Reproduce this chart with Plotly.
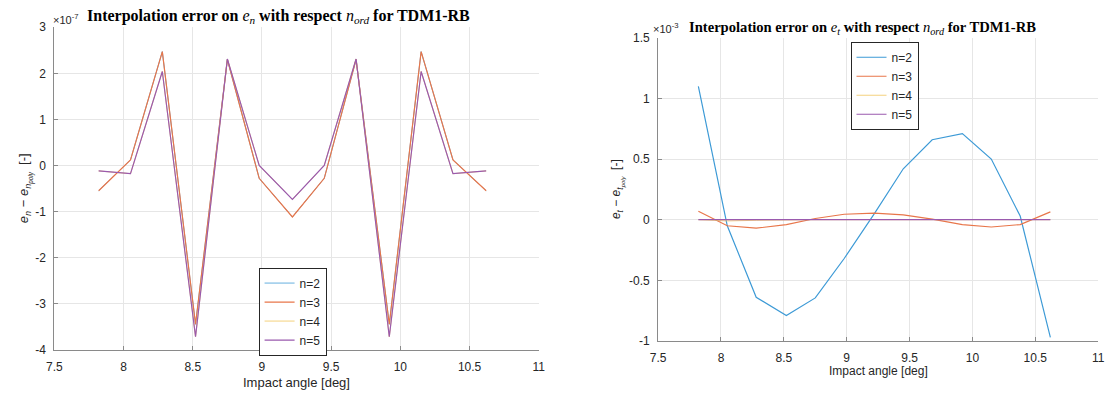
import plotly.graph_objects as go

W, H = 1115, 401

# Impact angle [deg]
angle = [7.82, 8.05, 8.28, 8.52, 8.75, 8.98, 9.22, 9.45, 9.68, 9.92, 10.15, 10.38, 10.62]

# Left panel: e_n error, in units of 1e-7
en_n2 = [-0.55, 0.12, 2.47, -3.45, 2.30, -0.28, -1.12, -0.28, 2.30, -3.45, 2.47, 0.12, -0.55]
en_n3 = [-0.55, 0.12, 2.47, -3.45, 2.30, -0.28, -1.12, -0.28, 2.30, -3.45, 2.47, 0.12, -0.55]
en_n4 = [-0.12, -0.18, 2.04, -3.72, 2.31, 0.00, -0.74, 0.00, 2.31, -3.72, 2.04, -0.18, -0.12]
en_n5 = [-0.12, -0.18, 2.04, -3.72, 2.31, 0.00, -0.74, 0.00, 2.31, -3.72, 2.04, -0.18, -0.12]

# Right panel: e_t error, in units of 1e-3
et_n2 = [1.10, -0.05, -0.64, -0.79, -0.645, -0.32, 0.05, 0.42, 0.66, 0.71, 0.50, 0.03, -0.97]
et_n3 = [0.07, -0.05, -0.07, -0.04, 0.01, 0.045, 0.055, 0.04, 0.005, -0.04, -0.06, -0.04, 0.065]
et_n4 = [0.0, -0.01, -0.005, 0.0, 0.0, 0.0, 0.0, 0.0, 0.0, 0.0, 0.0, 0.0, 0.0]
et_n5 = [0.0, 0.0, 0.0, 0.0, 0.0, 0.0, 0.0, 0.0, 0.0, 0.0, 0.0, 0.0, 0.0]

names = ["n=2", "n=3", "n=4", "n=5"]
colors = ["#3d9ad6", "#e8764a", "#f0c45a", "#9a5aae"]

x_ticks = [7.5, 8, 8.5, 9, 9.5, 10, 10.5, 11]
left_y_ticks = [-4, -3, -2, -1, 0, 1, 2, 3]
right_y_ticks = [-1, -0.5, 0, 0.5, 1, 1.5]


def px(x):
    return x / W


def py(y):
    return 1 - y / H


def fmt(v):
    return "%g" % v


fig = go.Figure()

# hidden-under traces (n=2 under n=3, n=4 under n=5) drawn thinner so the top colour stays clean
left_widths = [0.8, 1.2, 0.8, 1.2]
right_widths = [1.2, 1.2, 0.8, 1.2]

for nm, col, ys, w in zip(names, colors, [en_n2, en_n3, en_n4, en_n5], left_widths):
    fig.add_trace(go.Scatter(x=angle, y=ys, mode="lines", name=nm,
                             line=dict(color=col, width=w),
                             xaxis="x", yaxis="y", legend="legend"))
for nm, col, ys, w in zip(names, colors, [et_n2, et_n3, et_n4, et_n5], right_widths):
    fig.add_trace(go.Scatter(x=angle, y=ys, mode="lines", name=nm,
                             line=dict(color=col, width=w),
                             xaxis="x2", yaxis="y2", legend="legend2"))

tickfont = dict(family="Liberation Sans, Arial, sans-serif", size=12, color="#262626")
axcommon = dict(showgrid=True, gridcolor="#e6e6e6", gridwidth=1, zeroline=False,
                showline=True, linecolor="#8a8a8a", linewidth=1,
                ticks="inside", ticklen=4, tickcolor="#8a8a8a",
                tickfont=tickfont, mirror=False)

legfont = dict(family="Liberation Sans, Arial, sans-serif", size=12, color="#262626")

fig.update_layout(
    width=W, height=H,
    margin=dict(l=0, r=0, t=0, b=0),
    paper_bgcolor="white", plot_bgcolor="white",
    showlegend=True,
    xaxis=dict(domain=[px(47), px(538)], range=[7.5, 11], anchor="y",
               tickvals=x_ticks, ticktext=[fmt(v) for v in x_ticks],
               ticklabelstandoff=6, **axcommon),
    yaxis=dict(domain=[py(355), py(21)], range=[-4, 3], anchor="x",
               tickvals=left_y_ticks, ticktext=[fmt(v) for v in left_y_ticks],
               ticklabelstandoff=5, **axcommon),
    xaxis2=dict(domain=[px(659), px(1105)], range=[7.5, 11], anchor="y2",
                tickvals=x_ticks, ticktext=[fmt(v) for v in x_ticks],
                ticklabelstandoff=6, **axcommon),
    yaxis2=dict(domain=[py(346), py(32)], range=[-1, 1.5], anchor="x2",
                tickvals=right_y_ticks, ticktext=[fmt(v) for v in right_y_ticks],
                ticklabelstandoff=5, **axcommon),
    legend=dict(x=px(254), y=py(270), xanchor="left", yanchor="top",
                bgcolor="white", bordercolor="#262626", borderwidth=1,
                font=legfont, itemwidth=30, tracegroupgap=0),
    legend2=dict(x=px(854), y=py(36), xanchor="left", yanchor="top",
                 bgcolor="white", bordercolor="#262626", borderwidth=1,
                 font=legfont, itemwidth=30, tracegroupgap=0),
)

titlefont = dict(family="Liberation Serif, Times New Roman, serif", size=16, color="black")
labfont = dict(family="Liberation Sans, Arial, sans-serif", size=13, color="#262626")

ann = [
    dict(x=px(274), y=py(10), text="<b>Interpolation error on </b><i>e<sub>n</sub></i><b> with respect </b><i>n<sub>ord</sub></i><b> for TDM1-RB</b>",
         font=titlefont),
    dict(x=px(866), y=py(22), text="<b>Interpolation error on </b><i>e<sub>t</sub></i><b> with respect </b><i>n<sub>ord</sub></i><b> for TDM1-RB</b>",
         font=dict(titlefont, size=14.6)),
    dict(x=px(44), y=py(12), text="×10<sup>-7</sup>", xanchor="left",
         font=dict(family="Liberation Sans, Arial, sans-serif", size=11, color="#262626")),
    dict(x=px(652), y=py(22), text="×10<sup>-3</sup>", xanchor="left",
         font=dict(family="Liberation Sans, Arial, sans-serif", size=11, color="#262626")),
    dict(x=px(292), y=py(389), text="Impact angle [deg]", font=labfont),
    dict(x=px(882), y=py(377), text="Impact angle [deg]", font=dict(labfont, size=12)),
    dict(x=px(18), y=py(188), textangle=-90,
         text="<i>e<sub>n</sub></i> − <i>e<sub>n<sub>poly</sub></sub></i>  [-]", font=labfont),
    dict(x=px(618), y=py(189), textangle=-90,
         text="<i>e<sub>t</sub></i> − <i>e<sub>t<sub>poly</sub></sub></i>  [-]", font=dict(labfont, size=12)),
]
for a in ann:
    a.setdefault("xanchor", "center")
    a.update(xref="paper", yref="paper", showarrow=False, yanchor="middle")
    fig.add_annotation(**a)

fig.write_html("out.html")
